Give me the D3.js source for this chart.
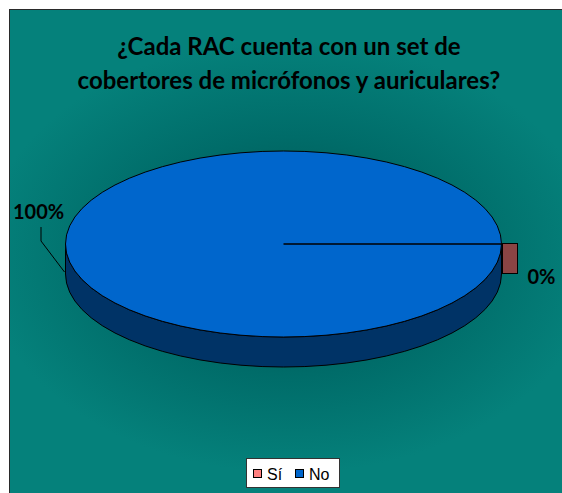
<!DOCTYPE html>
<html><head><meta charset="utf-8">
<script src="https://cdn.jsdelivr.net/npm/d3@7"></script>
<style>html,body{margin:0;padding:0;background:#fff;overflow:hidden}</style>
</head><body>
<svg id="c" width="562" height="493"></svg>
<script>
const categories = ["Sí", "No"];
const values = [0, 100];
const pctLabels = ["0%", "100%"];
const titleLines = ["¿Cada RAC cuenta con un set de", "cobertores de micrófonos y auriculares?"];
const topColors = ["#8a4444", "#0066cc"];
const legendColors = ["#ff8080", "#0066cc"];

const svg = d3.select("#c");
const W = 562, H = 493;
const defs = svg.append("defs");
const rg = defs.append("radialGradient").attr("id","bg")
  .attr("cx","0.5").attr("cy","0.5").attr("r","0.55")
  .attr("gradientTransform","translate(0.5,0.5) scale(1,0.8) translate(-0.5,-0.5)");
rg.append("stop").attr("offset","0%").attr("stop-color","#004f4c");
rg.append("stop").attr("offset","55%").attr("stop-color","#006c69");
rg.append("stop").attr("offset","100%").attr("stop-color","#05817b");

svg.append("rect").attr("x",9.5).attr("y",9.5).attr("width",W).attr("height",H)
  .attr("fill","url(#bg)").attr("stroke","#2a2a2a").attr("stroke-width",1);

const tg = svg.append("text").attr("text-anchor","middle")
  .attr("font-family","Lato, 'Open Sans', sans-serif").attr("font-weight","bold")
  .attr("font-size",24).attr("fill","#000");
tg.append("tspan").attr("x",289).attr("y",55).text(titleLines[0]);
tg.append("tspan").attr("x",289).attr("y",89).text(titleLines[1]);

const cx = 283.5, cy = 244, rx = 218, ry = 93, depth = 30;
const pie = d3.pie().sort(null).startAngle(Math.PI/2).endAngle(Math.PI/2 + 2*Math.PI);
const arcs = pie(values);
const pt = a => [cx + rx*Math.sin(a), cy - ry*Math.cos(a)];

// side (front half)
const side = `M${cx+rx},${cy} A${rx},${ry} 0 0 1 ${cx-rx},${cy} L${cx-rx},${cy+depth} A${rx},${ry} 0 0 0 ${cx+rx},${cy+depth} Z`;
svg.append("path").attr("d",side).attr("fill","#003366").attr("stroke","#000").attr("stroke-width",1);

// top face slices
arcs.forEach((d,i)=>{
  if (d.endAngle - d.startAngle <= 0) return;
  let p;
  if (d.endAngle - d.startAngle >= 2*Math.PI - 1e-9) {
    p = `M${cx+rx},${cy} A${rx},${ry} 0 1 1 ${cx-rx},${cy} A${rx},${ry} 0 1 1 ${cx+rx},${cy} Z`;
  } else {
    const [x0,y0] = pt(d.startAngle), [x1,y1] = pt(d.endAngle);
    const large = (d.endAngle-d.startAngle) > Math.PI ? 1 : 0;
    p = `M${cx},${cy} L${x0},${y0} A${rx},${ry} 0 ${large} 1 ${x1},${y1} Z`;
  }
  svg.append("path").attr("d",p).attr("fill",topColors[i]).attr("stroke","#000").attr("stroke-width",1);
});

// boundary radius line and zero slice face
const z = arcs[0];
const [ex,ey] = pt(z.startAngle);
svg.append("line").attr("x1",cx).attr("y1",cy).attr("x2",ex).attr("y2",ey)
  .attr("stroke","#000").attr("stroke-width",1.6);
svg.append("rect").attr("x",ex+1).attr("y",ey-0.5).attr("width",15).attr("height",depth)
  .attr("fill",topColors[0]).attr("stroke","#000").attr("stroke-width",1);

// labels
const lf = "Lato, 'Open Sans', sans-serif";
svg.append("text").attr("x",ex+26).attr("y",ey+40).attr("font-family",lf)
  .attr("font-weight","bold").attr("font-size",20).text(pctLabels[0]);
const mid = (arcs[1].startAngle + arcs[1].endAngle)/2;
const [mx,my] = pt(mid);
svg.append("text").attr("x",13).attr("y",219).attr("font-family",lf)
  .attr("font-weight","bold").attr("font-size",20).text(pctLabels[1]);
svg.append("polyline").attr("points",`41,227 41,241 ${mx-1},${my+depth-2}`)
  .attr("fill","none").attr("stroke","#000").attr("stroke-width",1);

// legend
const lg = svg.append("g");
lg.append("rect").attr("x",246.5).attr("y",458.5).attr("width",93).attr("height",29)
  .attr("fill","#fff").attr("stroke","#333").attr("stroke-width",1);
const items = [{x:253},{x:295}];
categories.forEach((c,i)=>{
  lg.append("rect").attr("x",items[i].x+0.5).attr("y",469.5).attr("width",8).attr("height",8)
    .attr("fill",legendColors[i]).attr("stroke","#000").attr("stroke-width",1);
  lg.append("text").attr("x",items[i].x+14).attr("y",480).attr("font-family","'Liberation Sans', Arial, sans-serif")
    .attr("font-size",16).text(c);
});
</script>
</body></html>
